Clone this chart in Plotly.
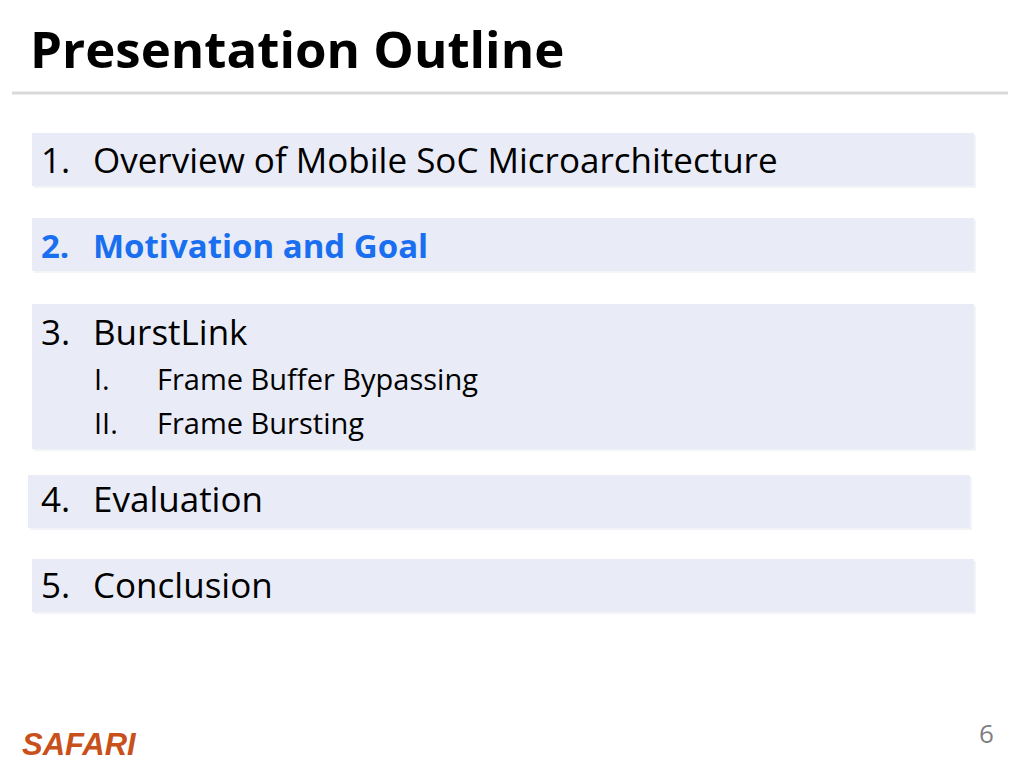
import plotly.graph_objects as go

title = "Presentation Outline"
numbers = ["1.", "2.", "3.", "4.", "5."]
items = ["Overview of Mobile SoC Microarchitecture", "Motivation and Goal", "BurstLink", "Evaluation", "Conclusion"]
highlight = [False, True, False, False, False]
sub_numbers = ["I.", "II."]
sub_items = ["Frame Buffer Bypassing", "Frame Bursting"]
page = "6"
logo = "SAFARI"

# box geometry (pixels): x0, x1, y0, y1
boxes = [(32, 974, 133, 186), (32, 974, 218, 271), (32, 974, 304, 449), (28, 970, 475, 528), (32, 974, 559, 612)]
text_y = [159, 245, 331, 498, 584]

FONT = "Open Sans"
fig = go.Figure()
shapes = []
ann = []
shapes.append(dict(type="line", x0=12, x1=1008, y0=93, y1=93, line=dict(color="#D9D9D9", width=3)))
for (x0, x1, y0, y1) in boxes:
    shapes.append(dict(type="rect", x0=x0+2, x1=x1+2, y0=y0+2, y1=y1+2, line_width=0, fillcolor="#F3F4F8", layer="below"))
    shapes.append(dict(type="rect", x0=x0, x1=x1, y0=y0, y1=y1, line_width=0, fillcolor="#E9ECF6", layer="below"))
ann.append(dict(x=28, y=48, text="<b>" + title + "</b>", xanchor="left", yanchor="middle", showarrow=False,
                font=dict(family=FONT, size=51, color="#000000")))
for n, t, h, y in zip(numbers, items, highlight, text_y):
    col = "#1A6FF0" if h else "#000000"
    txt_n = "<b>%s</b>" % n if h else n
    txt_t = "<b>%s</b>" % t if h else t
    sz = 33 if h else 35
    ann.append(dict(x=39, y=y, text=txt_n, xanchor="left", yanchor="middle", showarrow=False, font=dict(family=FONT, size=sz, color=col)))
    ann.append(dict(x=91, y=y, text=txt_t, xanchor="left", yanchor="middle", showarrow=False, font=dict(family=FONT, size=sz, color=col)))
for n, t, y in zip(sub_numbers, sub_items, [378, 422]):
    ann.append(dict(x=92, y=y, text=n, xanchor="left", yanchor="middle", showarrow=False, font=dict(family=FONT, size=29, color="#000")))
    ann.append(dict(x=155, y=y, text=t, xanchor="left", yanchor="middle", showarrow=False, font=dict(family=FONT, size=29, color="#000")))
ann.append(dict(x=20, y=744, text="<b><i>" + logo + "</i></b>", xanchor="left", yanchor="middle", showarrow=False,
                font=dict(family="Liberation Sans", size=31, color="#C8511B")))
ann.append(dict(x=986, y=733, text=page, xanchor="center", yanchor="middle", showarrow=False,
                font=dict(family=FONT, size=26, color="#7F7F7F")))

fig.update_layout(width=1024, height=768, margin=dict(l=0, r=0, t=0, b=0),
                  paper_bgcolor="white", plot_bgcolor="white", shapes=shapes, annotations=ann,
                  xaxis=dict(range=[8, 1032], visible=False, fixedrange=True),
                  yaxis=dict(range=[776, 8], visible=False, fixedrange=True), showlegend=False)
fig.write_html("out.html", config={"displayModeBar": False})
